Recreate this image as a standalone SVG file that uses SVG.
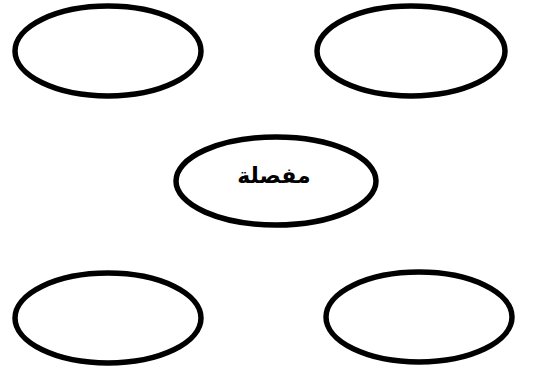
<svg xmlns="http://www.w3.org/2000/svg" width="553" height="367" viewBox="0 0 553 367">
<style>
.n{fill:#fff;stroke:#000;stroke-width:5.5}
.t{font-family:"DejaVu Sans","Liberation Sans",sans-serif;font-weight:bold;font-size:22px;fill:#000;text-anchor:middle}
</style>
<rect width="553" height="367" fill="#fff"/>
<g id="connectors"></g>
<g id="node-tl"><ellipse class="n" cx="108" cy="51" rx="93" ry="45"/></g>
<g id="node-tr"><ellipse class="n" cx="411" cy="51" rx="94" ry="45"/></g>
<g id="node-center"><ellipse class="n" cx="276" cy="181" rx="100" ry="44"/><text class="t" x="274" y="183" direction="rtl">مفصلة</text></g>
<g id="node-bl"><ellipse class="n" cx="108" cy="318" rx="93" ry="45"/></g>
<g id="node-br"><ellipse class="n" cx="419" cy="317" rx="93" ry="45"/></g>
</svg>
